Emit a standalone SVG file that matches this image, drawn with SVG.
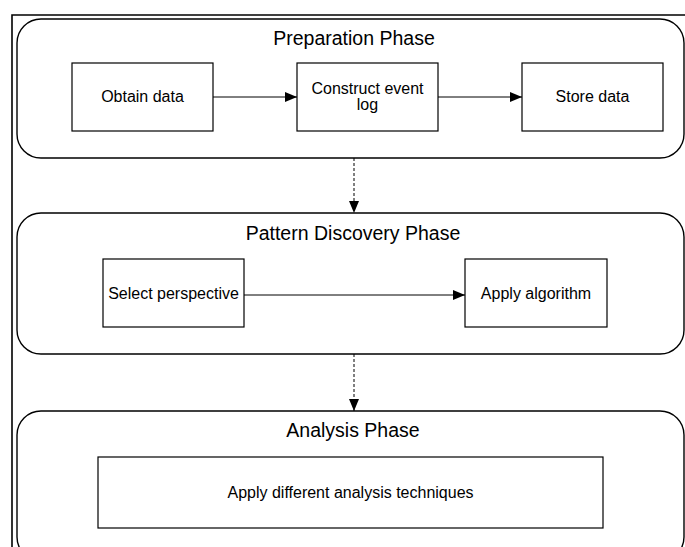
<svg xmlns="http://www.w3.org/2000/svg" width="685" height="547" viewBox="0 0 685 547">
<style>
.phase{fill:#fff;stroke:#000;stroke-width:1.4}
.box{fill:#fff;stroke:#000;stroke-width:1.2}
.title{font-family:"Liberation Sans",Arial,sans-serif;font-size:19.5px;fill:#000;text-anchor:middle}
.lbl{font-family:"Liberation Sans",Arial,sans-serif;font-size:16px;fill:#000;text-anchor:middle}
.flow{stroke:#000;stroke-width:1;fill:none;marker-end:url(#ah)}
.dash{stroke-dasharray:3 2}
</style>
<defs>
<marker id="ah" viewBox="0 0 12 10" refX="12" refY="5" markerWidth="12" markerHeight="10" markerUnits="userSpaceOnUse" orient="auto">
<path d="M0,0 L12,5 L0,10 Z" fill="#000"/>
</marker>
</defs>
<rect width="685" height="547" fill="#fff"/>
<g id="frame">
<path d="M12,547 V15 H685" fill="none" stroke="#000" stroke-width="1.6"/>
</g>
<g id="preparation-phase">
<rect class="phase" x="17" y="19" width="667" height="139" rx="24" ry="24"/>
<text class="title" x="354" y="45">Preparation Phase</text>
</g>
<g id="obtain-data">
<rect class="box" x="72" y="63" width="141" height="68"/>
<text class="lbl" x="142.5" y="102">Obtain data</text>
</g>
<g id="construct-event-log">
<rect class="box" x="297" y="63" width="141" height="68"/>
<text class="lbl" x="367.5" y="94">Construct event</text>
<text class="lbl" x="367.5" y="110">log</text>
</g>
<g id="store-data">
<rect class="box" x="522" y="63" width="141" height="68"/>
<text class="lbl" x="592.5" y="102">Store data</text>
</g>
<g id="pattern-discovery-phase">
<rect class="phase" x="17" y="213" width="667" height="141" rx="24" ry="24"/>
<text class="title" x="353" y="240">Pattern Discovery Phase</text>
</g>
<g id="select-perspective">
<rect class="box" x="103" y="259" width="141" height="68"/>
<text class="lbl" x="173.5" y="298.5">Select perspective</text>
</g>
<g id="apply-algorithm">
<rect class="box" x="465" y="259" width="142" height="68"/>
<text class="lbl" x="536" y="298.5">Apply algorithm</text>
</g>
<g id="analysis-phase">
<rect class="phase" x="17" y="411" width="667" height="150" rx="24" ry="24"/>
<text class="title" x="353" y="437">Analysis Phase</text>
</g>
<g id="apply-analysis-techniques">
<rect class="box" x="98" y="457" width="505" height="71"/>
<text class="lbl" x="350.5" y="498">Apply different analysis techniques</text>
</g>
<g id="connectors">
<line class="flow" x1="213" y1="97" x2="297" y2="97"/>
<line class="flow" x1="438" y1="97" x2="522" y2="97"/>
<line class="flow" x1="244" y1="295" x2="465" y2="295"/>
<line class="flow dash" x1="354" y1="158" x2="354" y2="213"/>
<line class="flow dash" x1="354" y1="354" x2="354" y2="411"/>
</g>
</svg>
